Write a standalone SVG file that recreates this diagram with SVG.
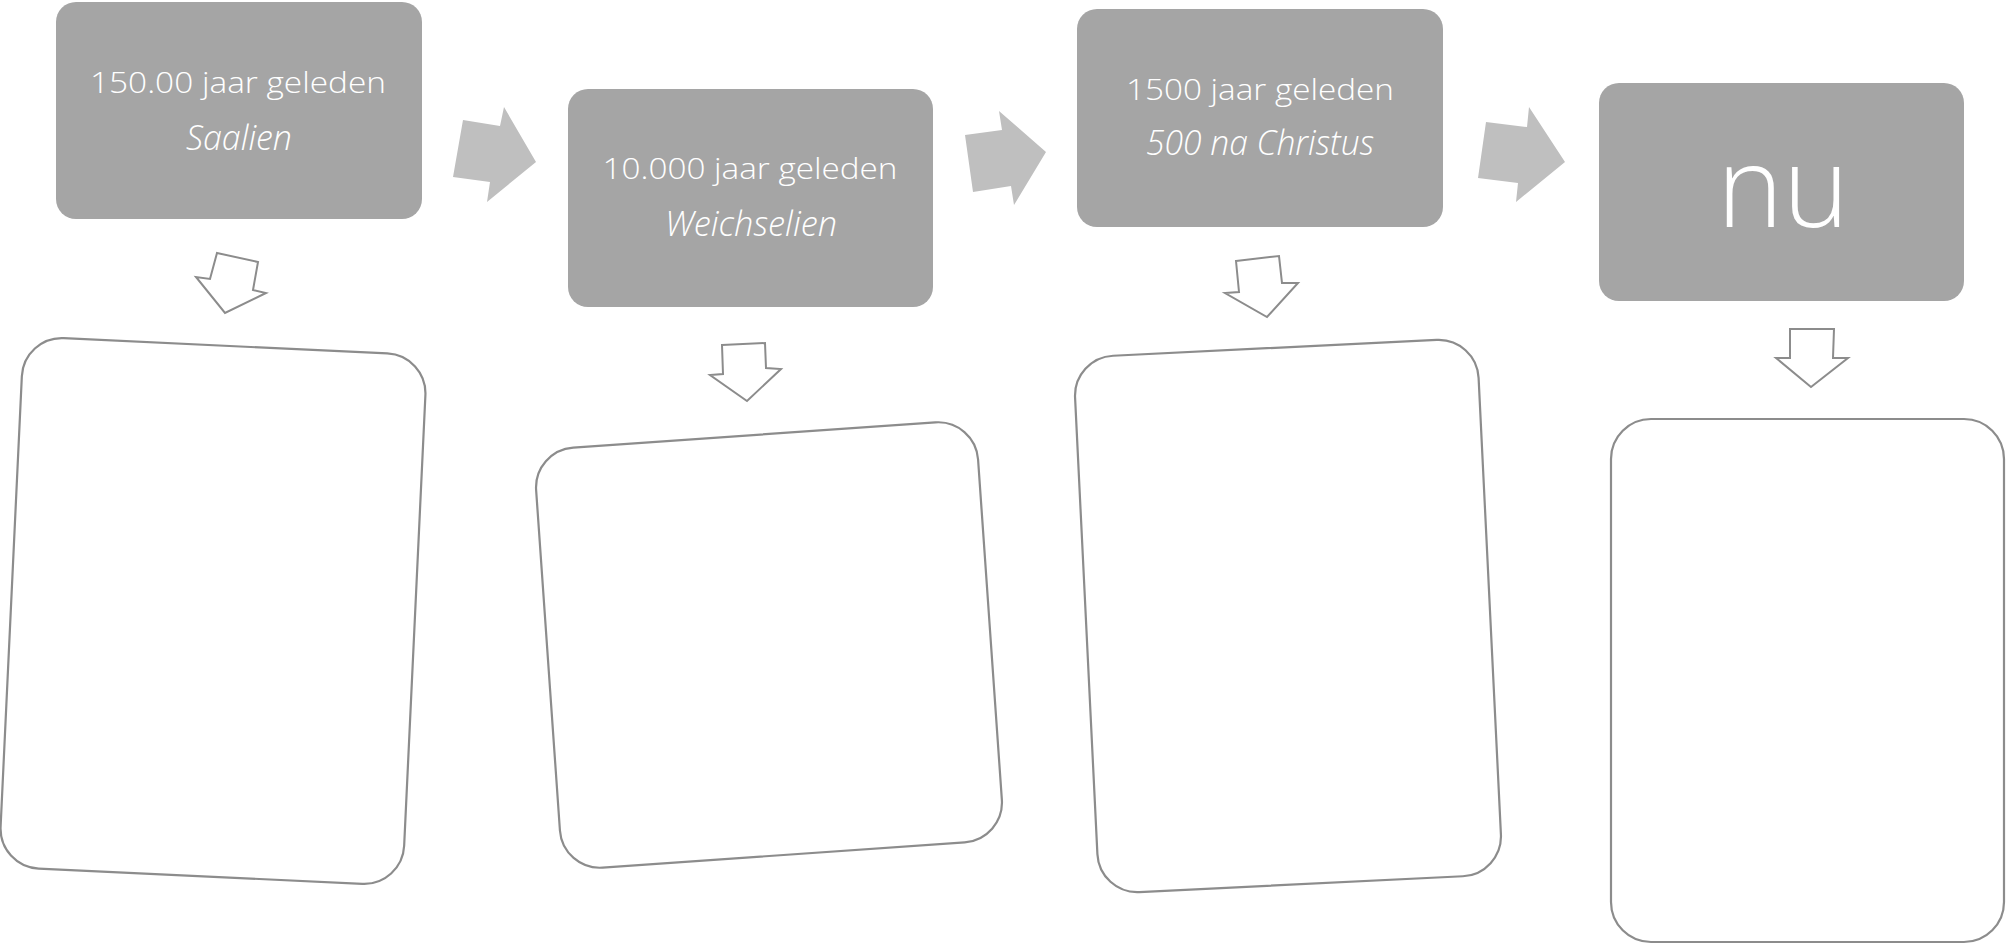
<svg xmlns="http://www.w3.org/2000/svg" width="2006" height="946" viewBox="0 0 2006 946">
<style>
.period{fill:#A5A5A5}
.t{fill:#FFFFFF;font-family:"Open Sans","Liberation Sans",sans-serif;font-weight:300;text-anchor:middle}
.l1{font-size:30px}
.l2{font-size:34px;font-style:italic}
.big{font-size:112px}
.flow{fill:#BFBFBF}
.down{fill:#FFFFFF;stroke:#8C8C8C;stroke-width:2;stroke-linejoin:miter}
.panel{fill:#FFFFFF;stroke:#8C8C8C;stroke-width:2.2}
</style>
<rect width="2006" height="946" fill="#FFFFFF"/>

<g id="node-saalien">
<rect class="period" x="56" y="2" width="366" height="217" rx="20"/>
<text class="t l1" x="238" y="93" textLength="296" lengthAdjust="spacingAndGlyphs">150.00 jaar geleden</text>
<text class="t l2" x="239" y="150" textLength="106" lengthAdjust="spacingAndGlyphs">Saalien</text>
</g>

<g id="node-weichselien">
<rect class="period" x="568" y="89" width="365" height="218" rx="20"/>
<text class="t l1" x="750" y="179" textLength="295" lengthAdjust="spacingAndGlyphs">10.000 jaar geleden</text>
<text class="t l2" x="751" y="236" textLength="172" lengthAdjust="spacingAndGlyphs">Weichselien</text>
</g>

<g id="node-christus">
<rect class="period" x="1077" y="9" width="366" height="218" rx="20"/>
<text class="t l1" x="1260" y="100" textLength="268" lengthAdjust="spacingAndGlyphs">1500 jaar geleden</text>
<text class="t l2" x="1260" y="155" textLength="228" lengthAdjust="spacingAndGlyphs">500 na Christus</text>
</g>

<g id="node-nu">
<rect class="period" x="1599" y="83" width="365" height="218" rx="20"/>
<text class="t big" x="1783" y="227">nu</text>
</g>

<g id="panel-1">
<rect class="panel" x="-202" y="-265.5" width="404" height="531" rx="40" transform="translate(213 611) rotate(2.7)"/>
</g>
<g id="panel-2">
<rect class="panel" x="-221.5" y="-210.5" width="443" height="421" rx="40" transform="translate(769 645) rotate(-4)"/>
</g>
<g id="panel-3">
<rect class="panel" x="-202" y="-268.5" width="404" height="537" rx="40" transform="translate(1288 616) rotate(-2.8)"/>
</g>
<g id="panel-4">
<rect class="panel" x="1611" y="419" width="393" height="523" rx="40"/>
</g>

<g id="connectors">
<polygon class="flow" points="463,120 500,126 504,107 536,162 487,202 490,182 453,177"/>
<polygon class="flow" points="965,135 1002,130 999,111 1046,152 1014,205 1011,186 973,192"/>
<polygon class="flow" points="1486,122 1527,127 1529,107 1565,162 1516,202 1518,183 1478,178"/>
<polygon class="down" points="217,253 258,262 253,290 266,293 225,313 196,277 210,279"/>
<polygon class="down" points="722,345 765,343 766,368 781,369 747,401 710,375 723,374"/>
<polygon class="down" points="1236,261 1279,256 1282,283 1298,283 1267,317 1225,293 1239,292"/>
<polygon class="down" points="1790,329 1834,329 1833,358 1848,358 1811,387 1776,358 1790,358"/>
</g>
</svg>
